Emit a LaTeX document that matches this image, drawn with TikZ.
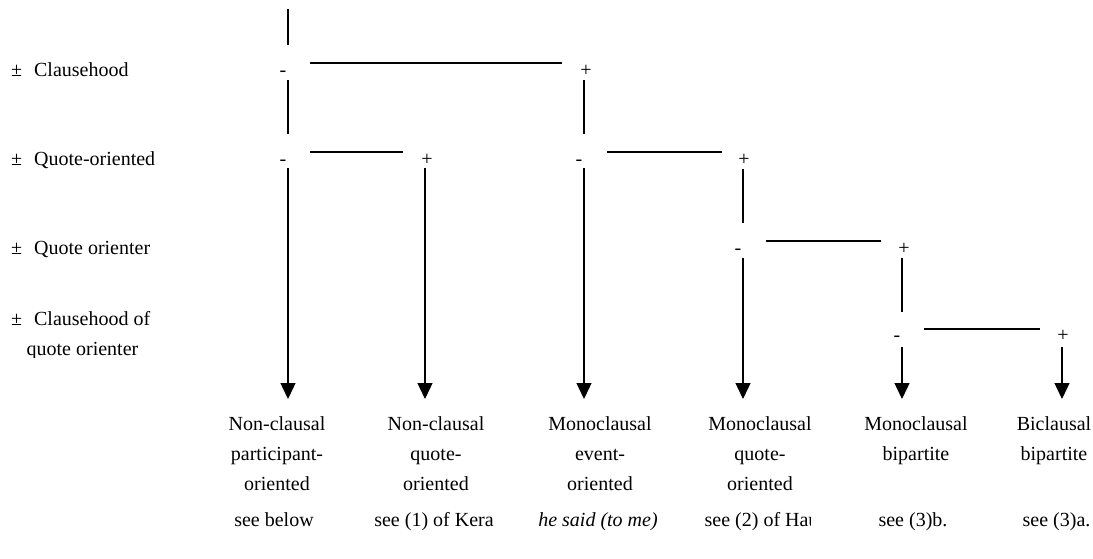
\documentclass[tikz,border=0pt]{standalone}
\usepackage{fontspec}
\setmainfont{Liberation Serif}
\usetikzlibrary{arrows.meta}
\begin{document}
\begin{tikzpicture}[x=1pt,y=-1pt,line width=1.3pt,
  sgn/.style={font=\fontsize{20}{20}\selectfont,inner sep=0pt,anchor=base},
  lbl/.style={font=\fontsize{20}{30}\selectfont,align=center,inner sep=0pt,anchor=base},
  feat/.style={font=\fontsize{20}{30}\selectfont,inner sep=0pt,anchor=base west},
  arr/.style={-{Triangle[length=16pt,width=15pt]}}]
\useasboundingbox (0,0) rectangle (1093,558);
% feature labels
\node[feat] (f1) at (10.5,76) {±\hspace{12pt}Clausehood};
\node[feat] (f2) at (10.5,165) {±\hspace{12pt}Quote-oriented};
\node[feat] (f3) at (10.5,254) {±\hspace{12pt}Quote orienter};
\node[feat] (f4) at (10.5,325) {±\hspace{12pt}Clausehood of};
\begin{scope}
\clip (0,330) rectangle (200,357);
\node[feat] (f5) at (26,355) {quote orienter};
\end{scope}
% signs
\node[sgn] (m1) at (283,76) {-};
\node[sgn] (p1) at (586,76) {+};
\node[sgn] (m2) at (283,165) {-};
\node[sgn] (p2) at (427,165) {+};
\node[sgn] (m3) at (579,165) {-};
\node[sgn] (p3) at (744,165) {+};
\node[sgn] (m4) at (738,254) {-};
\node[sgn] (p4) at (904,254) {+};
\node[sgn] (m5) at (897,341) {-};
\node[sgn] (p5) at (1063,341) {+};
% coordinates
\coordinate (t0) at (288,9);  \coordinate (t1) at (288,45);
\coordinate (h1a) at (310,63); \coordinate (h1b) at (562,63);
\coordinate (a1) at (288,80);  \coordinate (a2) at (288,134);
\coordinate (b1) at (584,80);  \coordinate (b2) at (584,134);
\coordinate (h2a) at (310,152); \coordinate (h2b) at (403,152);
\coordinate (h2c) at (607,152); \coordinate (h2d) at (722,152);
\coordinate (c1) at (288,168); \coordinate (c2) at (425,168); \coordinate (c3) at (584,168);
\coordinate (d1) at (743,169); \coordinate (d2) at (743,223);
\coordinate (h3a) at (766,241); \coordinate (h3b) at (881,241);
\coordinate (e1) at (743,258);
\coordinate (g1) at (902,258); \coordinate (g2) at (902,312);
\coordinate (h4a) at (924,329); \coordinate (h4b) at (1040,329);
\coordinate (k1) at (902,347); \coordinate (k2) at (1062,347);
\coordinate (z1) at (288,399); \coordinate (z2) at (425,399); \coordinate (z3) at (584,399);
\coordinate (z4) at (743,399); \coordinate (z5) at (902,399); \coordinate (z6) at (1062,399);
% lines
\draw (t0) -- (t1);
\draw (h1a) -- (h1b);
\draw (a1) -- (a2);
\draw (b1) -- (b2);
\draw (h2a) -- (h2b);
\draw (h2c) -- (h2d);
\draw (d1) -- (d2);
\draw (h3a) -- (h3b);
\draw (g1) -- (g2);
\draw (h4a) -- (h4b);
\draw[arr] (c1) -- (z1);
\draw[arr] (c2) -- (z2);
\draw[arr] (c3) -- (z3);
\draw[arr] (e1) -- (z4);
\draw[arr] (k1) -- (z5);
\draw[arr] (k2) -- (z6);
% outcome labels (anchor = baseline of last line)
\node[lbl] (o1) at (277,490) {Non-clausal\\participant-\\oriented};
\node[lbl] (o2) at (436,490) {Non-clausal\\quote-\\oriented};
\node[lbl] (o3) at (600,490) {Monoclausal\\event-\\oriented};
\node[lbl] (o4) at (760,490) {Monoclausal\\quote-\\oriented};
\node[lbl] (o5) at (916,460) {Monoclausal\\bipartite};
\node[lbl] (o6) at (1054,460) {Biclausal\\bipartite};
% examples
\node[lbl] (r1) at (274,526) {see below};
\node[lbl] (r2) at (434,526) {see (1) of Kera};
\node[lbl] (r3) at (598,526) {\itshape he said (to me)};
\begin{scope}
\clip (690,500) rectangle (810,540);
\node[lbl,anchor=base west] (r4) at (704,526) {see (2) of Hausa};
\end{scope}
\node[lbl] (r5) at (913,526) {see (3)b.};
\node[lbl,anchor=base west] (r6) at (1022,526) {see (3)a.};
\end{tikzpicture}
\end{document}
